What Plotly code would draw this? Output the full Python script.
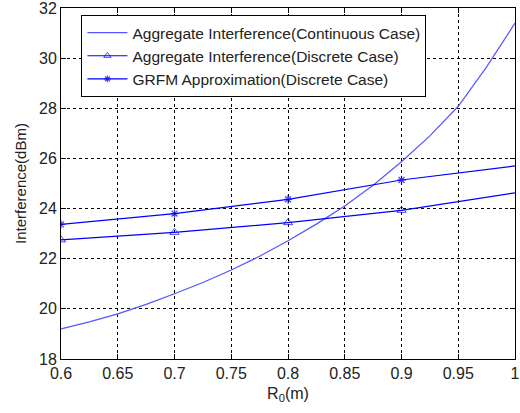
import plotly.graph_objects as go

# Continuous case curve
r_cont = [0.6, 0.625, 0.65, 0.675, 0.7, 0.725, 0.75, 0.775, 0.8, 0.825, 0.85,
          0.875, 0.9, 0.925, 0.95, 0.975, 1.0]
i_cont = [19.2, 19.48, 19.8, 20.18, 20.6, 21.05, 21.55, 22.1, 22.72, 23.38, 24.1,
          24.93, 25.87, 26.9, 28.08, 29.65, 31.4]

# Discrete case
r_disc = [0.6, 0.7, 0.8, 0.9, 1.0]
i_disc = [22.75, 23.05, 23.44, 23.93, 24.63]

# GRFM approximation
i_grfm = [23.37, 23.8, 24.37, 25.14, 25.7]

names = ["Aggregate Interference(Continuous Case)",
         "Aggregate Interference(Discrete Case)",
         "GRFM Approximation(Discrete Case)"]

x_ticks = [0.6, 0.65, 0.7, 0.75, 0.8, 0.85, 0.9, 0.95, 1.0]
x_tick_text = ["0.6", "0.65", "0.7", "0.75", "0.8", "0.85", "0.9", "0.95", "1"]
y_ticks = [18, 20, 22, 24, 26, 28, 30, 32]

msizes_tri = [8] * (len(r_disc) - 1) + [0]
msizes_ast = [7] * (len(r_disc) - 1) + [0]

FONT = "Liberation Sans, Arial"
TXT = "#222"

fig = go.Figure()
fig.add_trace(go.Scatter(x=r_cont, y=i_cont, mode="lines", name=names[0],
                         line=dict(color="#5555ff", width=1.2)))
fig.add_trace(go.Scatter(x=r_disc, y=i_disc, mode="lines+markers", name=names[1],
                         line=dict(color="#0000ff", width=1.2),
                         marker=dict(symbol="triangle-up-open", size=msizes_tri,
                                     color="#0000ff", line=dict(width=1, color="#0000ff"))))
fig.add_trace(go.Scatter(x=r_disc, y=i_grfm, mode="lines+markers", name=names[2],
                         line=dict(color="#0000ff", width=1.2),
                         marker=dict(symbol="asterisk-open", size=msizes_ast,
                                     color="#0000ff", line=dict(width=1.3, color="#0000ff"))))

axis_common = dict(showline=True, linecolor="black", linewidth=1, mirror="ticks",
                   ticks="inside", ticklen=5, tickcolor="black",
                   showgrid=True, gridcolor="black", gridwidth=1, griddash="3px,3px",
                   zeroline=False, automargin=False, ticklabeloverflow="allow",
                   tickfont=dict(family=FONT, size=16, color=TXT))

fig.update_xaxes(range=[0.6, 1.0], tickvals=x_ticks, ticktext=x_tick_text,
                 title=dict(text="R<sub>0</sub>(m)", standoff=6,
                            font=dict(family=FONT, size=16, color=TXT)),
                 **axis_common)
fig.update_yaxes(range=[18, 32], tickvals=y_ticks,
                 title=dict(text="Interference(dBm)", standoff=8,
                            font=dict(family=FONT, size=15, color=TXT)),
                 **axis_common)

fig.update_layout(width=520, height=413,
                  margin=dict(l=61, r=5, t=8, b=54, autoexpand=False),
                  plot_bgcolor="white", paper_bgcolor="white",
                  legend=dict(x=0.045, y=0.98, xanchor="left", yanchor="top",
                              bgcolor="white", bordercolor="black", borderwidth=1,
                              font=dict(family=FONT, size=15.5, color=TXT),
                              itemwidth=40, tracegroupgap=0),
                  showlegend=True)

fig.write_html("out.html", config={"displayModeBar": False},
               post_script="document.body.style.margin='0';document.body.style.padding='0';")
